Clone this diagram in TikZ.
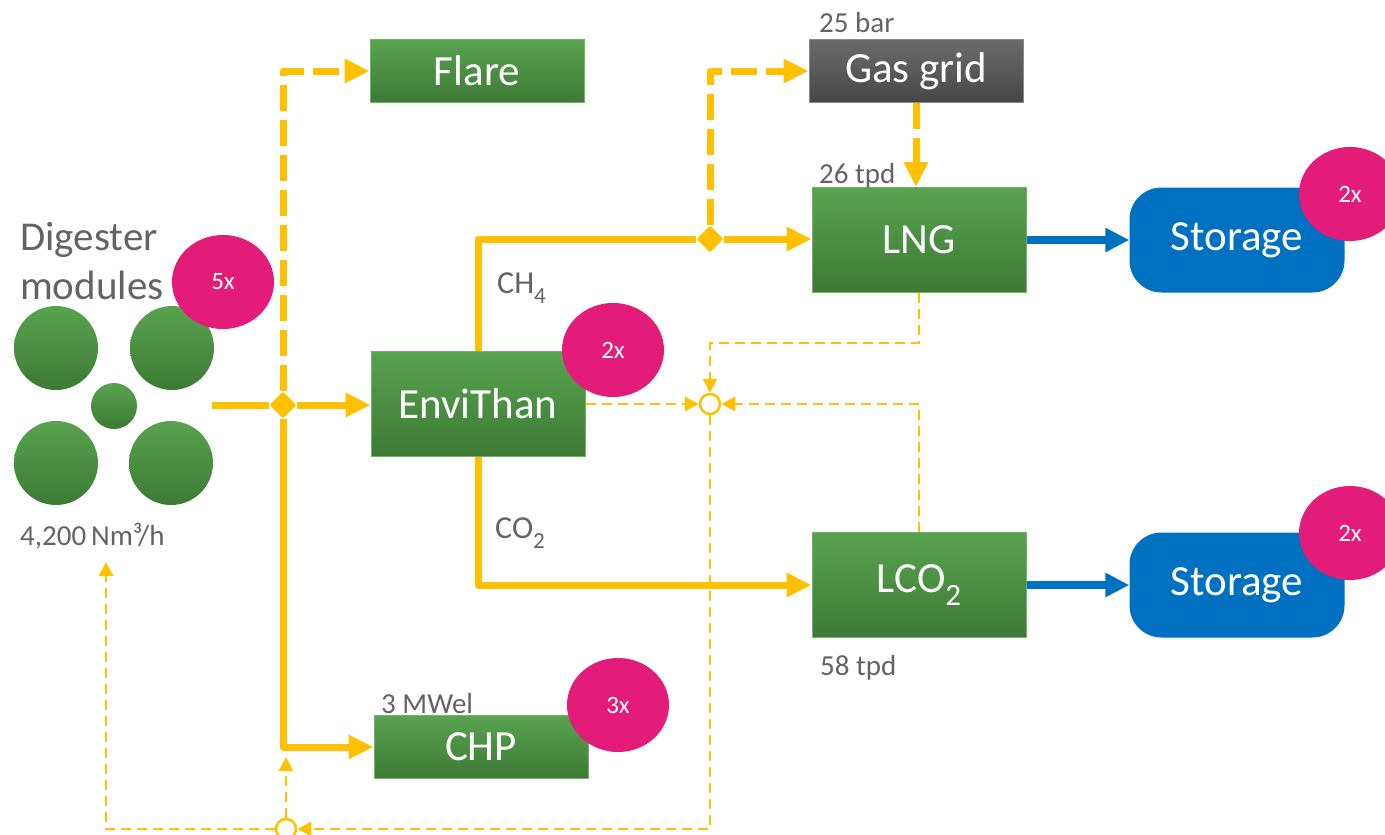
\documentclass[tikz,border=0pt]{standalone}
\usepackage{fontspec}
\setmainfont{Carlito}
\usepackage{tikz}
\usetikzlibrary{arrows.meta,calc,positioning,shapes.geometric}
\definecolor{unittop}{HTML}{58A34F}
\definecolor{unitbot}{HTML}{3E7A36}
\definecolor{gridtop}{HTML}{6B6B6B}
\definecolor{gridbot}{HTML}{474747}
\definecolor{flowyel}{HTML}{FFC000}
\definecolor{tankblue}{HTML}{0070C0}
\definecolor{countpink}{HTML}{E31C79}
\definecolor{notegray}{HTML}{636363}
\newcommand{\lowsub}[1]{\raisebox{-.32em}{\fontsize{.72\dimexpr\fontdimen6\font\relax}{1em}\selectfont #1}}

\begin{document}
\begin{tikzpicture}[x=1pt,y=-1pt,
  unit/.style={draw=unittop!85!white,line width=1pt,top color=unittop,bottom color=unitbot,
               text=white,minimum width=214pt,minimum height=105pt,inner sep=0pt,
               font=\fontsize{43}{47}\selectfont},
  lowunit/.style={unit,minimum height=63pt},
  tank/.style={fill=tankblue,rounded corners=32pt,text=white,minimum width=215pt,
               minimum height=105pt,font=\fontsize{43}{47}\selectfont},
  count/.style={ellipse,fill=countpink,text=white,minimum width=102pt,minimum height=94pt,
                inner sep=0pt,font=\fontsize{25}{25}\selectfont},
  vessel/.style={circle,top color=unittop,bottom color=unitbot,inner sep=0pt,minimum size=#1},
  note/.style={text=notegray,font=\fontsize{29}{32}\selectfont,anchor=base west,inner sep=0pt},
  chem/.style={note,font=\fontsize{32}{34}\selectfont},
  tee/.style={diamond,fill=flowyel,minimum size=27pt,inner sep=0pt,rounded corners=2pt},
  mix/.style={circle,draw=flowyel,line width=2.5pt,fill=white,minimum size=20pt,inner sep=0pt},
  main/.style={draw=flowyel,line width=7pt,line join=round,-{Triangle[length=25pt,width=23pt]}},
  bypass/.style={main,dash pattern=on 26pt off 9pt},
  recyc/.style={draw=flowyel,line width=2.8pt,dash pattern=on 10pt off 6pt,
                -{Triangle[length=14pt,width=14pt]}},
  ship/.style={draw=tankblue,line width=8pt,-{Triangle[length=24pt,width=23pt]}}]
  \useasboundingbox (0,0) rectangle (1385,835);

  \node[note,font=\fontsize{41}{45}\selectfont] (dtxt1) at (20,250) {Digester};
  \node[note,font=\fontsize{41}{45}\selectfont] (dtxt2) at (20,299) {modules};
  \node[vessel=84pt] (dig1) at (56,348) {};
  \node[vessel=84pt] (dig2) at (172,348) {};
  \node[vessel=46pt] (dig3) at (114,406) {};
  \node[vessel=84pt] (dig4) at (56,463) {};
  \node[vessel=84pt] (dig5) at (171,463) {};
  \node[note] (flow) at (20,545) {4,200\,Nm³/h};
  \coordinate (digout) at (212,405);

  \node[lowunit] (flare) at (477,71) {Flare};
  \node[lowunit,draw=gridtop!80!white,top color=gridtop,bottom color=gridbot] (grid) at (916,71) {Gas grid};
  \node[unit] (lng) at (919,240) {LNG};
  \node[unit] (envi) at (478,404) {EnviThan};
  \node[unit] (lco) at (919,585) {LCO\lowsub{2}};
  \node[lowunit] (chp) at (481,747) {CHP};
  \node[tank] (st1) at (1237,240) {Storage};
  \node[tank] (st2) at (1237,585) {Storage};

  \node[note] (bar) at (819,32) {25 bar};
  \node[note] (tpdg) at (819,183) {26 tpd};
  \node[note] (tpdc) at (820,675) {58 tpd};
  \node[note] (mwel) at (381,713) {3 MWel};
  \node[chem] (ch) at (497,293) {CH\lowsub{4}};
  \node[chem] (co) at (495,538) {CO\lowsub{2}};

  \node[tee] (j1) at (283,405) {};
  \node[tee] (j2) at (710,239) {};
  \node[mix] (c1) at (710,404) {};
  \node[mix] (c2) at (286,829) {};
  \coordinate (chpin) at (286,757);
  \coordinate (digin) at (106,562);

  \draw[main] (digout) -- (j1) -- (j1 -| envi.west);
  \draw[bypass] (j1) |- (flare.west);
  \draw[main] (j1) |- (chp.west);
  \draw[main] (envi.north) |- (j2) -- (j2 -| lng.west);
  \draw[bypass] (j2) |- (grid.west);
  \draw[bypass] (grid.south) -- (grid.south |- lng.north);
  \draw[main] (envi.south) |- (lco.west);
  \draw[ship] (lng) -- (st1);
  \draw[ship] (lco) -- (st2);

  \draw[recyc] (envi) -- (c1);
  \draw[recyc] (lng.south) -- ++(0,50) -| (c1);
  \draw[recyc] (lco.north) |- (c1);
  \draw[recyc] (c1) |- (c2);
  \draw[recyc] (c2) -- (chpin);
  \draw[recyc] (c2) -| (digin);

  \node[count] (n5) at (223,282) {5x};
  \node[count] (n2a) at (613,350) {2x};
  \node[count] (n2b) at (1350,194) {2x};
  \node[count] (n2c) at (1350,533) {2x};
  \node[count] (n3) at (618,705) {3x};
\end{tikzpicture}
\end{document}
